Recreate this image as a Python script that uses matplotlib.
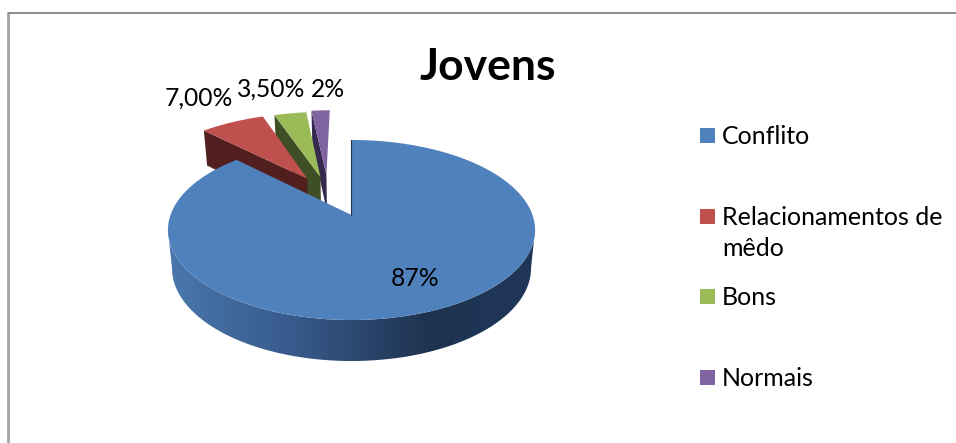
import numpy as np
import matplotlib
matplotlib.use("Agg")
import matplotlib.pyplot as plt
from matplotlib.colors import LinearSegmentedColormap
from matplotlib.patches import Polygon, Rectangle

# Chart content
title = "Jovens"
categories = ["Conflito", "Relacionamentos de\nmêdo", "Bons", "Normais"]
values = [87.0, 7.0, 3.5, 2.0]
value_labels = ["87%", "7,00%", "3,50%", "2%"]
top_colors = ["#4f81bd", "#c0504d", "#9bbb59", "#8064a2"]
side_colors = ["#1f3553", "#501f1e", "#3f4e24", "#352a4d"]

# Offset of each slice on the pie plane, in units of the radius
slice_offsets = [(0.0, 0.0), (-0.262, 0.445), (-0.185, 0.468), (-0.15, 0.495)]

plt.rcParams["font.family"] = ["Lato", "DejaVu Sans"]

fig = plt.figure(figsize=(9.56, 4.43), dpi=100)
ax = fig.add_axes([0, 0, 1, 1])
ax.set_xlim(0, 956)
ax.set_ylim(443, 0)
ax.axis("off")

# Outer frame: only the top and left edges are visible
ax.plot([8.5, 8.5], [12, 443], color="#a3a3a3", lw=2.0, solid_capstyle="butt")
ax.plot([8, 956], [12.7, 12.7], color="#8c8c8c", lw=1.4, solid_capstyle="butt")


def project(u, v):
    """Perspective projection of the pie plane to the top surface."""
    w = 1 + v / 6
    return 351.5 + 181 * u / w, (215 - 51.67 * v) / w


def lower(x, y):
    """Same point on the bottom surface of the extruded pie."""
    return 352 + 0.978 * (x - 352), y + 35 + (y - 132) * 6 / 188


def wedge(start, end, offset):
    t = np.radians(np.linspace(start, end, 240))
    u = np.concatenate([[offset[0]], offset[0] + np.sin(t)])
    v = np.concatenate([[offset[1]], offset[1] + np.cos(t)])
    return project(u, v)


fractions = np.array(values) / sum(values) * 360
ends = np.cumsum(fractions)
starts = ends - fractions

# Small slices, back to front, with the radial face that looks to the left
for i in [3, 2, 1]:
    x, y = wedge(starts[i], ends[i], slice_offsets[i])
    ex = np.array([x[0], x[1]])
    ey = np.array([y[0], y[1]])
    lx, ly = lower(ex, ey)
    ax.add_patch(Polygon(np.c_[np.r_[ex, lx[::-1]], np.r_[ey, ly[::-1]]],
                         closed=True, fc=side_colors[i], ec="none", zorder=2 + (3 - i)))
    ax.add_patch(Polygon(np.c_[x, y], closed=True, fc=top_colors[i], ec="none",
                         zorder=2 + (3 - i) + 0.5))

# Rim of the large slice: front half between the widest points of both surfaces
t = np.radians(np.linspace(60, 300, 500))
rx, ry = project(np.sin(t), np.cos(t))
bx, by = lower(rx, ry)
i_r, i_l = np.argmax(rx), np.argmin(rx)
j_r, j_l = np.argmax(bx), np.argmin(bx)
outline_x = np.r_[rx[i_r:i_l + 1], bx[j_r:j_l + 1][::-1]]
outline_y = np.r_[ry[i_r:i_l + 1], by[j_r:j_l + 1][::-1]]
rim = Polygon(np.c_[outline_x, outline_y], closed=True,
              fc="none", ec="none", transform=ax.transData, zorder=6)
ax.add_patch(rim)
shade = LinearSegmentedColormap.from_list(
    "rim", [(0, "#4a78ae"), (0.35, "#37598a"), (0.7, "#1e3350"), (1, "#20375a")])
img = ax.imshow(np.linspace(0, 1, 256)[None, :], cmap=shade, aspect="auto",
                extent=(165, 540, 365, 150), zorder=6)
img.set_clip_path(rim)
ax.set_xlim(0, 956)
ax.set_ylim(443, 0)

# Top of the large slice and its thin edge along the gap
x, y = wedge(starts[0], ends[0], slice_offsets[0])
ax.add_patch(Polygon(np.c_[x, y], closed=True, fc=top_colors[0], ec="none", zorder=7))
ax.plot([x[0] - 0.5, x[1] - 0.5], [y[0], y[1]], color=side_colors[0], lw=0.8, zorder=7.5)

# Value labels
label_pos = [(415, 279), (198.5, 98), (271, 89), (328, 89)]
for text, (lx, ly) in zip(value_labels, label_pos):
    ax.text(lx, ly, text, fontsize=17.7, color="black", ha="center", va="center", zorder=9)

ax.text(488, 67, title, fontsize=32, fontweight="bold", color="black",
        ha="center", va="center", zorder=9)

# Legend
legend_y = [135.5, 216.5, 296.5, 377.5]
for name, color, ly in zip(categories, top_colors, legend_y):
    ax.add_patch(Rectangle((700, ly - 7.5), 15, 15, fc=color, ec="none", zorder=9))
    ax.text(722, ly - 10.5, name, fontsize=18, color="black", ha="left", va="top",
            linespacing=1.42, zorder=9)

fig.savefig("out.png", dpi=100)
